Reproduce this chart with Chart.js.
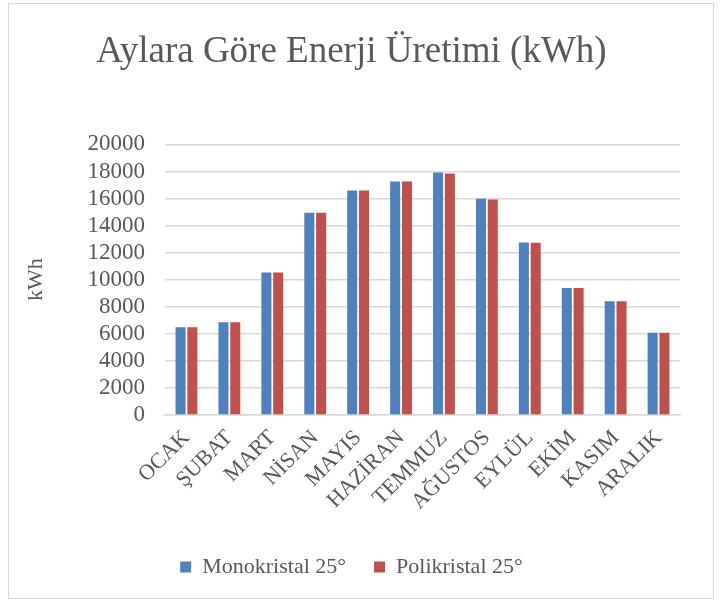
<!DOCTYPE html>
<html>
<head>
<meta charset="utf-8">
<script src="https://cdn.jsdelivr.net/npm/chart.js@4"></script>
<style>
  body { margin: 0; background: #fff; }
  #frame { position: absolute; left: 8px; top: 3px; width: 704px; height: 594px; border: 1px solid #d9d9d9; }
</style>
</head>
<body>
<div id="frame"><canvas id="chart" width="704" height="594"></canvas></div>
<script>
// months on the x axis
const months = ['OCAK', 'ŞUBAT', 'MART', 'NİSAN', 'MAYIS', 'HAZİRAN', 'TEMMUZ', 'AĞUSTOS', 'EYLÜL', 'EKİM', 'KASIM', 'ARALIK'];

// production per month (kWh)
const monoValues = [6480, 6850, 10540, 14950, 16600, 17260, 17920, 15990, 12750, 9390, 8410, 6080];
const polyValues = [6480, 6850, 10540, 14950, 16600, 17260, 17850, 15930, 12730, 9390, 8410, 6080];

const seriesNames = ['Monokristal 25°', 'Polikristal 25°'];
const seriesColors = ['#4f81bd', '#c0504d'];

const serif = "'Liberation Serif', 'Times New Roman', serif";
const textColor = '#595959';

new Chart(document.getElementById('chart'), {
  type: 'bar',
  data: {
    labels: months,
    datasets: [
      { label: seriesNames[0], data: monoValues, backgroundColor: seriesColors[0] },
      { label: seriesNames[1], data: polyValues, backgroundColor: seriesColors[1] },
    ],
  },
  options: {
    responsive: false,
    animation: false,
    categoryPercentage: 0.55,
    barPercentage: 0.85,
    layout: { padding: { top: 14, right: 33, bottom: 10, left: 14 } },
    plugins: {
      tooltip: { enabled: false },
      title: {
        display: true,
        text: 'Aylara Göre Enerji Üretimi (kWh)',
        color: textColor,
        font: { family: serif, size: 37, weight: 'normal' },
        padding: { top: 12, bottom: 70 },
      },
      legend: {
        position: 'bottom',
        labels: {
          color: textColor,
          font: { family: serif, size: 22 },
          boxWidth: 11,
          boxHeight: 11,
          padding: 28,
        },
      },
    },
    scales: {
      x: {
        grid: { display: false },
        border: { color: '#d9d9d9', width: 1.5 },
        ticks: {
          color: textColor,
          font: { family: serif, size: 22 },
          maxRotation: 45,
          minRotation: 45,
          autoSkip: false,
          padding: 2,
        },
        afterFit: (scale) => { scale.height = 113; },
      },
      y: {
        min: 0,
        max: 20000,
        grid: { color: '#d9d9d9', lineWidth: 1.5, drawTicks: false },
        border: { display: false },
        ticks: {
          stepSize: 2000,
          autoSkip: false,
          color: textColor,
          font: { family: serif, size: 23 },
          padding: 20,
          callback: (v) => String(v),
        },
        title: {
          display: true,
          text: 'kWh',
          color: textColor,
          font: { family: serif, size: 22 },
          padding: { top: 0, bottom: 6 },
        },
        afterFit: (scale) => { scale.width = 142; },
      },
    },
  },
});
</script>
</body>
</html>
